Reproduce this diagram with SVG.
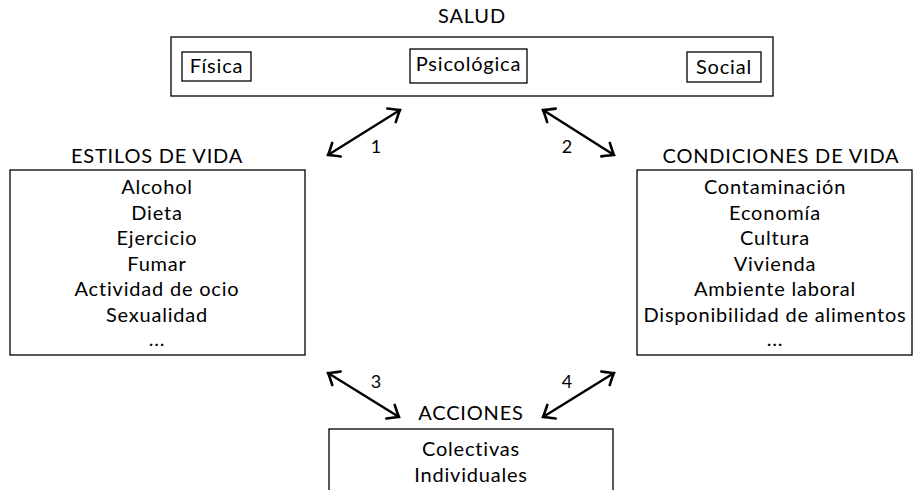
<svg xmlns="http://www.w3.org/2000/svg" width="921" height="490" viewBox="0 0 921 490">
  <style>
    .box { fill: #fff; stroke: #000; stroke-width: 1.3; }
    .t { font-family: "Lato", "Liberation Sans", sans-serif; font-size: 20px; letter-spacing: 0.8px; fill: #000; text-anchor: middle; }
    .lbl { font-family: "Lato", "Liberation Sans", sans-serif; font-size: 18px; fill: #000; text-anchor: middle; }
    .conn { stroke: #000; stroke-width: 2.4; fill: none; marker-start: url(#head); marker-end: url(#head); }
  </style>
  <defs>
    <!-- open curved arrowhead -->
    <marker id="head" viewBox="-14 -10 16 20" refX="0" refY="0" markerWidth="16" markerHeight="20" markerUnits="userSpaceOnUse" orient="auto-start-reverse">
      <path d="M -10 -8 Q -3 -2 0 0 Q -3 2 -10 8" fill="none" stroke="#000" stroke-width="2.6" stroke-linecap="round"/>
    </marker>
  </defs>
  <rect width="921" height="490" fill="#fff"/>

  <g id="salud">
    <text class="t" x="472" y="23">SALUD</text>
    <rect class="box" x="171" y="37" width="602" height="59"/>
    <g id="fisica">
      <rect class="box" x="182" y="52" width="69" height="29"/>
      <text class="t" x="216.5" y="73">Física</text>
    </g>
    <g id="psicologica">
      <rect class="box" x="410" y="49" width="117" height="34"/>
      <text class="t" x="468.5" y="71">Psicológica</text>
    </g>
    <g id="social">
      <rect class="box" x="687" y="52" width="74" height="30"/>
      <text class="t" x="724" y="74">Social</text>
    </g>
  </g>

  <g id="estilos">
    <text class="t" x="157" y="163">ESTILOS DE VIDA</text>
    <rect class="box" x="10" y="170" width="295" height="185"/>
    <text class="t" x="157" y="194">Alcohol</text>
    <text class="t" x="157" y="219.5">Dieta</text>
    <text class="t" x="157" y="245">Ejercicio</text>
    <text class="t" x="157" y="270.5">Fumar</text>
    <text class="t" x="157" y="296">Actividad de ocio</text>
    <text class="t" x="157" y="321.5">Sexualidad</text>
    <text class="t" x="157" y="346">...</text>
  </g>

  <g id="condiciones">
    <text class="t" x="781" y="163">CONDICIONES DE VIDA</text>
    <rect class="box" x="637" y="170" width="275" height="185"/>
    <text class="t" x="775" y="194">Contaminación</text>
    <text class="t" x="775" y="219.5">Economía</text>
    <text class="t" x="775" y="245">Cultura</text>
    <text class="t" x="775" y="270.5">Vivienda</text>
    <text class="t" x="775" y="296">Ambiente laboral</text>
    <text class="t" x="775" y="321.5">Disponibilidad de alimentos</text>
    <text class="t" x="775" y="346">...</text>
  </g>

  <g id="acciones">
    <text class="t" x="471" y="420">ACCIONES</text>
    <rect class="box" x="329" y="429" width="284" height="70"/>
    <text class="t" x="471" y="456">Colectivas</text>
    <text class="t" x="471" y="481.5">Individuales</text>
  </g>

  <g id="connectors">
    <line class="conn" x1="328" y1="155" x2="400" y2="110"/>
    <line class="conn" x1="543" y1="110" x2="614" y2="155"/>
    <line class="conn" x1="328" y1="373" x2="399" y2="417"/>
    <line class="conn" x1="543" y1="417" x2="614" y2="373"/>
    <text class="lbl" x="376" y="153">1</text>
    <text class="lbl" x="567" y="153">2</text>
    <text class="lbl" x="376" y="388">3</text>
    <text class="lbl" x="567" y="388">4</text>
  </g>
</svg>
